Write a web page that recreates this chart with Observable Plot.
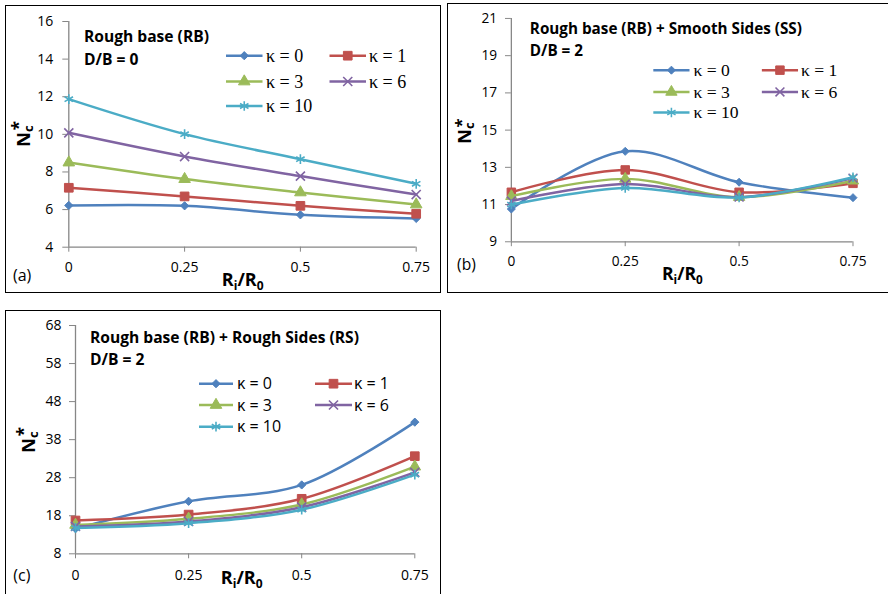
<!DOCTYPE html>
<html><head><meta charset="utf-8">
<script src="https://cdn.jsdelivr.net/npm/d3@7"></script>
<script src="https://cdn.jsdelivr.net/npm/@observablehq/plot@0.6"></script>
<style>
html,body{margin:0;padding:0;background:#fff;}
#page{position:relative;width:888px;height:594px;overflow:hidden;background:#fff;}
.box{position:absolute;box-sizing:border-box;border:1.5px solid #000;}
.panel{position:absolute;}
.panel svg{overflow:visible;}
</style></head><body><div id="page"></div>
<script>
// ---------- data ----------
const xVals = [0, 0.25, 0.5, 0.75];
const xTickLabels = ["0", "0.25", "0.5", "0.75"];
const kappas = [0, 1, 3, 6, 10];
const legendLabels = ["κ = 0", "κ = 1", "κ = 3", "κ = 6", "κ = 10"];

// Panel (a): Rough base, D/B = 0 (rows: κ = 0,1,3,6,10)
const panelAValues = [
  [6.22, 6.20, 5.72, 5.53],
  [7.16, 6.70, 6.20, 5.78],
  [8.50, 7.62, 6.91, 6.27],
  [10.08, 8.82, 7.78, 6.80],
  [11.87, 10.01, 8.68, 7.37]
];
const panelAYTicks = [4, 6, 8, 10, 12, 14, 16];
const panelATitle = ["Rough base (RB)", "D/B = 0"];

// Panel (b): Rough base + Smooth Sides, D/B = 2
const panelBValues = [
  [10.76, 13.86, 12.20, 11.37],
  [11.66, 12.86, 11.66, 12.14],
  [11.45, 12.38, 11.40, 12.28],
  [11.19, 12.10, 11.40, 12.42],
  [11.00, 11.89, 11.38, 12.47]
];
const panelBYTicks = [9, 11, 13, 15, 17, 19, 21];
const panelBTitle = ["Rough base (RB) + Smooth Sides (SS)", "D/B = 2"];

// Panel (c): Rough base + Rough Sides, D/B = 2
const panelCValues = [
  [14.6, 21.8, 26.1, 42.6],
  [16.75, 18.3, 22.45, 33.65],
  [15.6, 17.2, 20.96, 30.9],
  [15.2, 16.5, 20.25, 29.4],
  [14.8, 16.05, 19.6, 28.8]
];
const panelCYTicks = [8, 18, 28, 38, 48, 58, 68];
const panelCTitle = ["Rough base (RB) + Rough Sides (RS)", "D/B = 2"];

const panelLetters = ["(a)", "(b)", "(c)"];

// ---------- styles ----------
const colors = ["#4F81BD", "#C0504D", "#9BBB59", "#8064A2", "#4BACC6"];
const symbols = ["diamond2", "square", "triangle", "times", "asterisk"];
const symFill = [true, true, true, false, false];
const symR = [3.7, 4.9, 4.3, 4.2, 4.6];
const symSW = [1, 1, 1, 1.6, 1.6];
const AXIS = "#868686";
const d3sym = {diamond2: d3.symbolDiamond2, square: d3.symbolSquare, triangle: d3.symbolTriangle, times: d3.symbolTimes, asterisk: d3.symbolAsterisk};

const panels = [
  {values: panelAValues, yTicks: panelAYTicks, title: panelATitle, letter: panelLetters[0],
   box: [5, 5, 436, 288], frame: [68.3, 21, 415.7, 246.7], yPad: 9.6, xPad: 10.3,
   titleX: 84, titleY: [42, 65],
   legend: {cols: [[226, 262.5, 266], [329.5, 366, 369]], rows: [55.7, 81.5, 106], font: "Liberation Serif", size: 18, dy: 6},
   letterPos: [13, 281], ylab: [30, 147], xlab: [242.7, 286]},
  {values: panelBValues, yTicks: panelBYTicks, title: panelBTitle, letter: panelLetters[1],
   box: [447, 3, 451, 290], frame: [512.3, 18.3, 861.7, 246.7], yPad: 8.6, xPad: 10.3,
   titleX: 531.7, titleY: [34.7, 56.7],
   legend: {cols: [[658, 695, 699], [769, 806, 809]], rows: [71.7, 94, 115], font: "Liberation Serif", size: 18, dy: 6},
   letterPos: [457.3, 276], ylab: [472, 147], xlab: [687.7, 286]},
  {values: panelCValues, yTicks: panelCYTicks, title: panelCTitle, letter: panelLetters[2],
   box: [5, 310, 436, 300], frame: [75, 325, 414.3, 553.3], yPad: 8, xPad: 11.7,
   titleX: 90, titleY: [343.3, 365],
   legend: {cols: [[199, 233, 237], [315, 352, 354]], rows: [383.7, 405, 426.7], font: "Open Sans", size: 16, dy: 5.5},
   letterPos: [13.3, 581], ylab: [35, 453], xlab: [241.7, 584]}
];

const page = document.getElementById("page");

function makePanel(p) {
  const rows = [];
  p.values.forEach((vals, i) => vals.forEach((v, j) => rows.push({k: kappas[i], x: xVals[j], y: v})));
  const [bx, by, bw, bh] = p.box;
  const [fx0, fy0, fx1, fy1] = p.frame;
  const marks = [
    Plot.axisY({ticks: p.yTicks, tickSize: 6, tickPadding: p.yPad, stroke: AXIS, label: null, tickFormat: d => String(d)}),
    Plot.axisX({ticks: xVals, tickSize: 5, tickPadding: p.xPad, stroke: AXIS, label: null, tickFormat: d => xTickLabels[xVals.indexOf(d)]}),
    Plot.ruleX([xVals[0]], {stroke: AXIS, strokeWidth: 1.3}),
    Plot.ruleY([p.yTicks[0]], {stroke: AXIS, strokeWidth: 1.3})
  ];
  kappas.forEach((k, i) => {
    const d = rows.filter(r => r.k === k);
    marks.push(Plot.line(d, {x: "x", y: "y", stroke: colors[i], strokeWidth: 2.5, curve: "catmull-rom"}));
    marks.push(Plot.dot(d, {x: "x", y: "y", symbol: symbols[i], r: symR[i],
      fill: symFill[i] ? colors[i] : "none", stroke: colors[i], strokeWidth: symSW[i]}));
  });
  const chart = Plot.plot({
    width: bw, height: bh,
    marginLeft: fx0 - bx, marginRight: bx + bw - fx1,
    marginTop: fy0 - by, marginBottom: by + bh - fy1,
    x: {domain: [xVals[0], xVals[xVals.length - 1]]},
    y: {domain: [p.yTicks[0], p.yTicks[p.yTicks.length - 1]]},
    style: {fontFamily: "Open Sans", fontSize: "14px", color: "#000", background: "transparent", overflow: "visible"},
    marks
  });

  const wrap = document.createElement("div");
  wrap.className = "panel";
  wrap.style.left = bx + "px"; wrap.style.top = by + "px";
  wrap.appendChild(chart);
  page.appendChild(wrap);
  const border = document.createElement("div");
  border.className = "box";
  border.style.left = bx + "px"; border.style.top = by + "px";
  border.style.width = bw + "px"; border.style.height = bh + "px";
  page.appendChild(border);

  // overlay annotations in page coordinates
  const g = d3.select(chart).append("g").attr("transform", `translate(${-bx},${-by})`)
    .attr("text-anchor", "start");
  // titles
  p.title.forEach((t, i) => {
    g.append("text").attr("x", p.titleX).attr("y", p.titleY[i]).attr("text-anchor", "start")
      .attr("font-family", "Open Sans").attr("font-weight", "bold").attr("font-size", 15.6)
      .attr("fill", "#000").text(t);
  });
  // legend
  const L = p.legend;
  kappas.forEach((k, i) => {
    const col = L.cols[i % 2], y = L.rows[Math.floor(i / 2)];
    g.append("line").attr("x1", col[0]).attr("x2", col[1]).attr("y1", y).attr("y2", y)
      .attr("stroke", colors[i]).attr("stroke-width", 2.5);
    g.append("path").attr("d", d3.symbol(d3sym[symbols[i]], Math.PI * symR[i] * symR[i])())
      .attr("transform", `translate(${(col[0] + col[1]) / 2},${y})`)
      .attr("fill", symFill[i] ? colors[i] : "none").attr("stroke", colors[i]).attr("stroke-width", symSW[i]);
    g.append("text").attr("x", col[2]).attr("y", y + L.dy).attr("text-anchor", "start")
      .attr("font-family", L.font).attr("font-size", L.size).attr("fill", "#000").text(legendLabels[i]);
  });
  // panel letter
  g.append("text").attr("x", p.letterPos[0]).attr("y", p.letterPos[1]).attr("text-anchor", "start")
    .attr("font-family", "Open Sans").attr("font-size", 16).attr("fill", "#000").text(p.letter);
  // y label N_c*
  const yl = g.append("text").attr("transform", `translate(${p.ylab[0]},${p.ylab[1]}) rotate(-90)`)
    .attr("text-anchor", "start")
    .attr("font-family", "Open Sans").attr("font-weight", "bold").attr("font-size", 18.5).attr("fill", "#000");
  yl.append("tspan").text("N");
  yl.append("tspan").attr("font-size", 13).attr("dy", 3).text("c");
  yl.append("tspan").attr("font-size", 17).attr("dx", -5).attr("dy", -8).text("*");
  // x label R_i/R_0
  const xl = g.append("text").attr("x", p.xlab[0]).attr("y", p.xlab[1]).attr("text-anchor", "middle")
    .attr("font-family", "Open Sans").attr("font-weight", "bold").attr("font-size", 18).attr("fill", "#000");
  xl.append("tspan").text("R");
  xl.append("tspan").attr("font-size", 12).attr("dy", 4).text("i");
  xl.append("tspan").attr("dy", -4).text("/R");
  xl.append("tspan").attr("font-size", 12).attr("dy", 4).text("0");
}

panels.forEach(makePanel);
</script>
</body></html>
